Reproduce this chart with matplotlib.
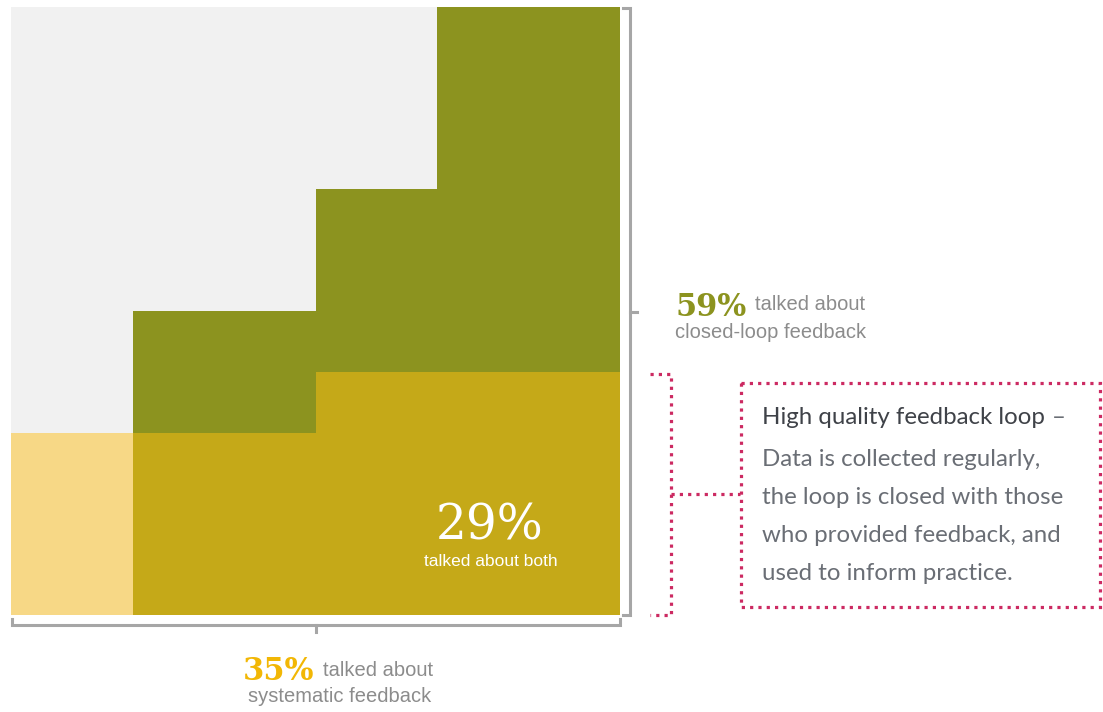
import matplotlib
matplotlib.use("Agg")
import matplotlib.pyplot as plt
from matplotlib.patches import Rectangle
import numpy as np

# ---- data: 10x10 grid, each column stacked (cells per column) ----
columns = list(range(10))
systematic_only = [3, 3, 0, 0, 0, 0, 0, 0, 0, 0]   # light yellow (6)
both = [0, 0, 3, 3, 3, 4, 4, 4, 4, 4]              # mustard (29)
closed_loop_only = [0, 0, 2, 2, 2, 3, 3, 6, 6, 6]  # olive (30)
grid_total = 10

pct_both = "29%"
pct_closed = "59%"
pct_systematic = "35%"

W, H = 1103, 712
fig = plt.figure(figsize=(W / 100, H / 100), dpi=100)

# waffle axes, in pixel placement
x0, x1, y0, y1 = 11, 620, 7, 615
ax = fig.add_axes([x0 / W, 1 - y1 / H, (x1 - x0) / W, (y1 - y0) / H])
ax.set_xlim(-0.5, 9.5)
ax.set_ylim(0, grid_total)
ax.axis("off")

c_gray = "#F1F1F1"
c_light = "#F7D886"
c_both = "#C5A918"
c_olive = "#8C931F"

s = np.array(systematic_only)
b = np.array(both)
o = np.array(closed_loop_only)
rest = grid_total - s - b - o
ax.bar(columns, s, width=1.0, bottom=0, color=c_light, linewidth=0)
ax.bar(columns, b, width=1.0, bottom=s, color=c_both, linewidth=0)
ax.bar(columns, o, width=1.0, bottom=s + b, color=c_olive, linewidth=0)
ax.bar(columns, rest, width=1.0, bottom=s + b + o, color=c_gray, linewidth=0)

# overlay axes for annotations in pixel coordinates
ov = fig.add_axes([0, 0, 1, 1])
ov.set_xlim(0, W)
ov.set_ylim(H, 0)
ov.axis("off")
ov.patch.set_alpha(0)

g = "#A6A6A6"
lw = 2.2
# right bracket
ov.plot([623, 630, 630, 623], [8, 8, 615, 615], color=g, lw=lw, solid_joinstyle="miter")
ov.plot([630, 637], [312, 312], color=g, lw=lw)
# bottom bracket
ov.plot([12, 12, 620, 620], [619, 625, 625, 619], color=g, lw=lw, solid_joinstyle="miter")
ov.plot([316, 316], [625, 632], color=g, lw=lw)

pink = "#CC2A62"
dot = dict(color=pink, lw=2.3, linestyle=(0, (1, 1.6)), dash_capstyle="butt")
ov.plot([650, 671, 671, 650], [374, 374, 615, 615], **dot)
ov.plot([671, 740], [494, 494], **dot)
ov.add_patch(Rectangle((741, 383), 359, 224, fill=False, edgecolor=pink,
                       lw=2.3, linestyle=(0, (1, 1.6))))

serif = "DejaVu Serif"
sans = "Liberation Sans"
gtxt = "#8C8C8C"

# 29% inside
ov.text(490, 539, pct_both, fontsize=35, family=serif, color="white",
        ha="center", va="baseline")
ov.text(491, 562, "talked about both", fontsize=12.5, family=sans, color="white",
        ha="center", va="center")

# 59%
ov.text(675, 316, pct_closed, fontsize=22, family=serif, weight="bold",
        color=c_olive, ha="left", va="baseline")
ov.text(755, 305, "talked about", fontsize=14.5, family=sans, color=gtxt,
        ha="left", va="center")
ov.text(675, 333, "closed-loop feedback", fontsize=14.5, family=sans, color=gtxt,
        ha="left", va="center")

# 35%
ov.text(243, 680, pct_systematic, fontsize=22, family=serif, weight="bold",
        color="#F2B705", ha="left", va="baseline")
ov.text(323, 670, "talked about", fontsize=14.5, family=sans, color=gtxt,
        ha="left", va="center")
ov.text(340, 697, "systematic feedback", fontsize=14.5, family=sans, color=gtxt,
        ha="center", va="center")

# box text
box_font = "Lato"
fs = 17.3
title = ov.text(762, 418, "High quality feedback loop", fontsize=fs, family=box_font,
                color="#3F4248", ha="left", va="center")
ov.annotate("–", xy=(1, 0.5), xycoords=title, xytext=(5, 0),
            textcoords="offset points", fontsize=fs, family=box_font,
            color="#6A6E75", ha="left", va="center")
body = ["Data is collected regularly,",
        "the loop is closed with those",
        "who provided feedback, and",
        "used to inform practice."]
for i, line in enumerate(body):
    ov.text(762, 460 + i * 38, line, fontsize=fs, family=box_font,
            color="#6A6E75", ha="left", va="center")

fig.savefig("out.png", dpi=100)
